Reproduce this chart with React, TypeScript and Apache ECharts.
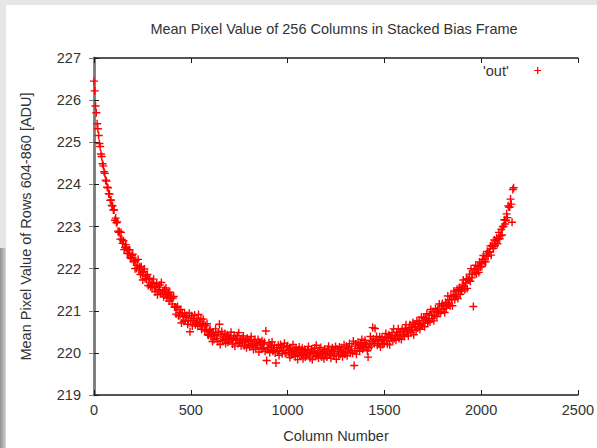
import { useEffect, useRef } from "react";
import * as echarts from "echarts";

// Labels
const chartTitle = "Mean Pixel Value of 256 Columns in Stacked Bias Frame";
const xAxisName = "Column Number";
const yAxisName = "Mean Pixel Value of Rows 604-860 [ADU]";
const seriesName = "'out'";

// Axis ranges
const xMin = 0;
const xMax = 2500;
const xInterval = 500;
const yMin = 219;
const yMax = 227;
const yInterval = 1;

// Column spacing of the sampled means
const columnStep = 4;

// Mean ADU per sampled column (columns 0, 4, 8, ... 2168), one row per 100 columns
const meanValues = [
  226.45, 226.22, 225.86, 225.7, 225.44, 225.32, 225.16, 224.97, 224.9, 224.72, 224.66, 224.49, 224.44, 224.3, 224.26, 224.1, 224.08, 223.93, 223.92, 223.78, 223.77, 223.62, 223.63, 223.5, 223.49,
  223.39, 223.39, 223.15, 223.2, 223.09, 223.11, 222.89, 222.86, 222.88, 222.7, 222.86, 222.69, 222.6, 222.66, 222.45, 222.5, 222.57, 222.49, 222.36, 222.44, 222.36, 222.45, 222.26, 222.24, 222.31,
  222.34, 222.16, 222.19, 222.0, 222.19, 222.01, 222.08, 222.22, 221.97, 222.04, 221.86, 222.05, 221.91, 221.73, 221.93, 221.99, 221.76, 221.82, 221.74, 221.86, 221.6, 221.75, 221.77, 221.57, 221.63,
  221.55, 221.67, 221.75, 221.55, 221.45, 221.57, 221.64, 221.38, 221.56, 221.5, 221.61, 221.41, 221.67, 221.41, 221.47, 221.33, 221.5, 221.4, 221.54, 221.3, 221.38, 221.42, 221.23, 221.44, 221.29,
  221.33, 221.16, 221.3, 221.34, 221.09, 221.09, 220.92, 221.08, 221.1, 220.88, 220.96, 220.89, 221.03, 220.71, 220.93, 220.86, 220.75, 220.95, 220.76, 220.85, 220.89, 220.68, 220.77, 220.94, 220.5,
  220.76, 220.88, 220.64, 220.82, 220.77, 220.9, 220.67, 220.71, 220.81, 220.63, 220.91, 220.75, 220.66, 220.81, 220.56, 220.67, 220.8, 220.69, 220.52, 220.65, 220.55, 220.69, 220.43, 220.42, 220.53,
  220.56, 220.39, 220.45, 220.27, 220.49, 220.32, 220.41, 220.57, 220.34, 220.44, 220.27, 220.48, 220.68, 220.2, 220.43, 220.51, 220.29, 220.38, 220.32, 220.46, 220.22, 220.39, 220.43, 220.25, 220.34,
  220.28, 220.41, 220.49, 220.31, 220.21, 220.34, 220.41, 220.16, 220.35, 220.3, 220.41, 220.22, 220.48, 220.24, 220.3, 220.17, 220.34, 220.25, 220.4, 220.17, 220.26, 220.3, 220.12, 220.35, 220.2,
  220.27, 220.14, 220.31, 220.39, 220.17, 220.21, 220.08, 220.27, 220.32, 220.12, 220.22, 220.17, 220.32, 220.02, 220.25, 220.19, 220.09, 220.29, 220.11, 220.21, 220.25, 220.04, 220.52, 219.82, 220.08,
  220.13, 220.24, 220.01, 220.18, 220.14, 220.26, 220.04, 220.07, 220.18, 220.0, 219.76, 220.12, 220.04, 220.18, 219.94, 220.06, 220.2, 220.12, 219.98, 220.13, 220.06, 220.23, 219.99, 220.01, 220.14,
  220.17, 220.01, 220.07, 219.89, 220.11, 219.95, 220.04, 220.2, 219.97, 220.07, 219.91, 220.11, 220.0, 219.84, 220.07, 220.14, 219.93, 220.02, 219.96, 220.11, 219.86, 220.03, 220.08, 219.9, 219.99,
  219.93, 220.06, 220.15, 219.97, 219.88, 220.01, 220.09, 219.84, 220.04, 219.99, 220.11, 219.92, 220.18, 219.94, 220.01, 219.88, 220.06, 219.97, 220.13, 219.9, 219.99, 220.04, 219.86, 220.09, 219.95,
  220.03, 219.9, 220.08, 220.16, 219.95, 219.99, 219.87, 220.07, 220.12, 219.93, 220.03, 219.98, 220.15, 219.85, 220.09, 220.03, 219.93, 220.14, 219.97, 220.07, 220.12, 219.91, 220.01, 220.19, 219.97,
  220.03, 220.16, 219.93, 220.12, 220.08, 220.22, 220.0, 220.05, 220.16, 219.99, 220.28, 219.7, 220.05, 220.21, 219.97, 220.1, 220.25, 220.18, 220.04, 220.21, 220.14, 220.32, 220.09, 220.12, 220.25,
  220.3, 220.15, 220.21, 220.05, 219.9, 220.12, 220.21, 220.39, 220.16, 220.27, 220.6, 220.33, 220.22, 220.58, 220.3, 220.39, 220.18, 220.28, 220.22, 220.38, 220.14, 220.32, 220.37, 220.2, 220.29,
  220.23, 220.37, 220.46, 220.29, 220.21, 220.35, 220.43, 220.19, 220.4, 220.35, 220.48, 220.3, 220.57, 220.34, 220.42, 220.3, 220.48, 220.4, 220.57, 220.34, 220.44, 220.5, 220.32, 220.56, 220.43,
  220.51, 220.39, 220.58, 220.67, 220.47, 220.52, 220.4, 220.61, 220.67, 220.49, 220.6, 220.55, 220.72, 220.43, 220.68, 220.63, 220.54, 220.76, 220.59, 220.7, 220.76, 220.56, 220.67, 220.85, 220.64,
  220.7, 220.83, 220.62, 220.81, 220.78, 220.93, 220.72, 220.77, 220.9, 220.73, 221.03, 220.89, 220.82, 220.98, 220.76, 220.89, 221.05, 220.99, 220.86, 221.03, 220.98, 221.16, 220.94, 220.98, 221.12,
  221.17, 221.03, 221.11, 220.96, 221.2, 221.06, 221.16, 221.35, 221.14, 221.26, 221.12, 221.35, 221.26, 221.12, 221.37, 221.47, 221.27, 221.38, 221.34, 221.51, 221.29, 221.48, 221.55, 221.39, 221.5,
  221.46, 221.61, 221.73, 221.57, 221.5, 221.66, 221.76, 221.53, 221.75, 221.73, 221.87, 221.7, 222.0, 221.78, 221.87, 221.1, 221.97, 221.9, 222.08, 221.88, 221.99, 222.06, 221.91, 222.16, 222.04,
  222.12, 222.05, 222.22, 222.31, 222.17, 222.23, 222.16, 222.35, 222.41, 222.29, 222.4, 222.39, 222.54, 222.32, 222.55, 222.53, 222.48, 222.68, 222.55, 222.66, 222.73, 222.59, 222.7, 222.86, 222.71,
  222.78, 222.93, 222.8, 222.99, 223.01, 223.16, 223.06, 223.15, 223.3, 223.21, 223.49, 223.46, 223.46, 223.65, 223.53, 223.1, 223.88, 223.92,
];

const FONT = "'Liberation Sans', Arial, Helvetica, sans-serif";
const TEXT = "#333333";
const FRAME_DARK = "#1c1c1c";
const FRAME_GRAY = "#7c7c7c";
const RED = "#ff0000";

// Filled plus sign used as the point marker (arms about 1.4px wide at 8px)
const PLUS = "path://M3.3,0H4.7V3.3H8V4.7H4.7V8H3.3V4.7H0V3.3H3.3Z";

const plainNumber = (v: number) => String(v);

export default function App() {
  const ref = useRef<HTMLDivElement>(null);

  useEffect(() => {
    if (!ref.current) return;
    const chart = echarts.init(ref.current, null, { renderer: "svg" });

    const points = meanValues.map((v, i) => [i * columnStep, v]);

    const hiddenLabel = { show: false };
    const noSplit = { show: false };

    chart.setOption({
      animation: false,
      backgroundColor: "#ffffff",
      textStyle: { fontFamily: FONT },
      title: {
        text: chartTitle,
        left: 334,
        top: 21,
        padding: 0,
        textAlign: "center",
        textStyle: { fontFamily: FONT, fontSize: 14.5, fontWeight: "normal", color: TEXT },
      },
      legend: {
        left: 483,
        top: 63,
        padding: 0,
        align: "right",
        itemWidth: 48,
        itemHeight: 7,
        data: [{ name: seriesName, icon: PLUS }],
        textStyle: { fontFamily: FONT, fontSize: 14.5, color: TEXT },
      },
      grid: { left: 94, right: 19, top: 58, bottom: 52, containLabel: false },
      xAxis: [
        {
          type: "value",
          position: "bottom",
          min: xMin,
          max: xMax,
          interval: xInterval,
          name: xAxisName,
          nameLocation: "middle",
          nameGap: 33,
          nameTextStyle: { fontFamily: FONT, fontSize: 14.5, color: TEXT },
          axisLine: { show: true, lineStyle: { color: FRAME_DARK, width: 1.5 } },
          axisTick: { show: true, inside: true, length: 5, lineStyle: { color: FRAME_DARK, width: 1 } },
          axisLabel: { color: TEXT, fontFamily: FONT, fontSize: 14.5, margin: 7, formatter: plainNumber },
          splitLine: noSplit,
        },
        {
          type: "value",
          position: "top",
          min: xMin,
          max: xMax,
          interval: xInterval,
          axisLine: { show: true, lineStyle: { color: FRAME_DARK, width: 1.5 } },
          axisTick: { show: true, inside: true, length: 5, lineStyle: { color: FRAME_DARK, width: 1 } },
          axisLabel: hiddenLabel,
          splitLine: noSplit,
        },
      ],
      yAxis: [
        {
          type: "value",
          position: "left",
          min: yMin,
          max: yMax,
          interval: yInterval,
          name: yAxisName,
          nameLocation: "middle",
          nameGap: 61,
          nameTextStyle: { fontFamily: FONT, fontSize: 14.5, color: TEXT },
          axisLine: { show: true, lineStyle: { color: FRAME_GRAY, width: 2.5 } },
          axisTick: { show: true, inside: true, length: 5, lineStyle: { color: FRAME_DARK, width: 1 } },
          axisLabel: { color: TEXT, fontFamily: FONT, fontSize: 14.5, margin: 13, formatter: plainNumber },
          splitLine: noSplit,
        },
        {
          type: "value",
          position: "right",
          min: yMin,
          max: yMax,
          interval: yInterval,
          axisLine: { show: true, lineStyle: { color: FRAME_GRAY, width: 2.5 } },
          axisTick: { show: true, inside: true, length: 5, lineStyle: { color: FRAME_GRAY, width: 1 } },
          axisLabel: hiddenLabel,
          splitLine: noSplit,
        },
      ],
      graphic: [
        { type: "rect", left: 0, top: 0, shape: { width: 597, height: 5 }, style: { fill: "#e6e6e6" }, silent: true },
        { type: "rect", left: 0, top: 0, shape: { width: 6, height: 448 }, style: { fill: "#e6e6e6" }, silent: true },
        {
          type: "rect",
          left: 0,
          top: 248,
          shape: { width: 6, height: 200 },
          style: {
            fill: new echarts.graphic.LinearGradient(0, 0, 1, 0, [
              { offset: 0, color: "#8f8f8f" },
              { offset: 1, color: "#d4d4d4" },
            ]),
          },
          silent: true,
        },
      ],
      series: [
        {
          name: seriesName,
          type: "scatter",
          xAxisIndex: 0,
          yAxisIndex: 0,
          data: points,
          symbol: PLUS,
          symbolSize: 8,
          clip: false,
          large: false,
          itemStyle: { color: RED, opacity: 1 },
          emphasis: { disabled: true },
        },
      ],
    });

    return () => chart.dispose();
  }, []);

  return (
    <div
      ref={ref}
      style={{ position: "absolute", left: 0, top: 0, width: 597, height: 448 }}
    />
  );
}
